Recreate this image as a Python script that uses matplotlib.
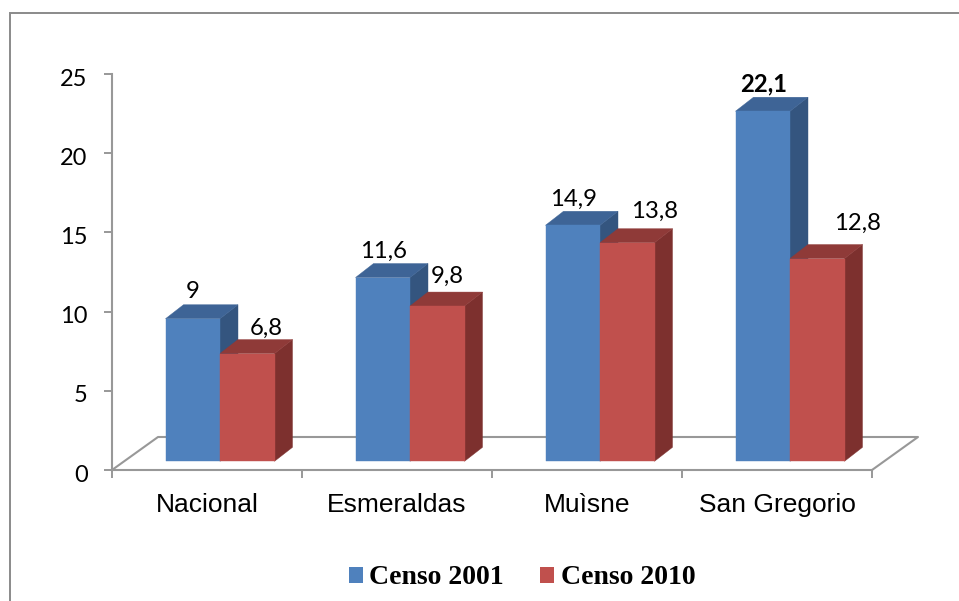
import numpy as np
import matplotlib
matplotlib.use('Agg')
import matplotlib.pyplot as plt
from matplotlib.lines import Line2D
from matplotlib.patches import Patch, Polygon
from matplotlib.transforms import ScaledTranslation

# Data.
categories = ['Nacional', 'Esmeraldas', 'Muìsne', 'San Gregorio']
censo_2001 = [9, 11.6, 14.9, 22.1]
censo_2010 = [6.8, 9.8, 13.8, 12.8]
labels_2001 = ['9', '11,6', '14,9', '22,1']
labels_2010 = ['6,8', '9,8', '13,8', '12,8']
y_ticks = [0, 5, 10, 15, 20, 25]

W, H = 959, 601
FRAME = '#8A8A8A'
GRAY = '#989898'
FRONT = ['#4F81BD', '#C0504D']
SIDE = ['#34557F', '#7D302E']
TOP = ['#3E6496', '#8F3A38']

# 3D look, in data units (190 px per category, 15.84 px per y unit).
bar_w = 54.5 / 190
shift = 13 / 190
depth_x = 18 / 190
depth_y = 14 / 15.84
base = 0.55
floor_x = 46 / 190
floor_y = 33 / 15.84

fig = plt.figure(figsize=(W / 100, H / 100), dpi=100, facecolor='white')
ax = fig.add_axes([112 / W, 1 - 470 / H, 760 / W, 396 / H])
ax.set_xlim(0, 4)
ax.set_ylim(0, 25)
ax.patch.set_alpha(0)

# Outer frame, cut by the image edge.
fig.add_artist(Line2D([10 / W, 10 / W, 1], [0, 1 - 13 / H, 1 - 13 / H],
                      color=FRAME, lw=1.4, solid_joinstyle='miter'))

# Floor.
ax.plot([0, floor_x, 4 + floor_x, 4], [0, floor_y, floor_y, 0],
        color=GRAY, lw=1.5, clip_on=False, zorder=1)

x = np.arange(4) + 0.5
for s, values in enumerate([censo_2001, censo_2010]):
    left = x + shift - bar_w + s * bar_w
    ax.bar(left, values, bar_w, bottom=base, align='edge', color=FRONT[s],
           edgecolor=FRONT[s], linewidth=0.3, zorder=3 + s * 2)
    for l, v in zip(left, values):
        r = l + bar_w
        t = v + base
        ax.add_patch(Polygon([(r, base), (r + depth_x, base + depth_y),
                              (r + depth_x, t + depth_y), (r, t)], facecolor=SIDE[s],
                             edgecolor=SIDE[s], linewidth=0.3, clip_on=False, zorder=2 + s * 2))
        ax.add_patch(Polygon([(l, t), (l + depth_x, t + depth_y),
                              (r + depth_x, t + depth_y), (r, t)], facecolor=TOP[s],
                             edgecolor=TOP[s], linewidth=0.3, clip_on=False, zorder=2 + s * 2))

# Value labels were placed by hand in the original, so offsets in px from the bar top.
off_2001 = [(-9, 27), (-8, 26), (-8, 26), (-8, 27)]
off_2010 = [(10, 25), (1, 30), (18, 31), (31, 35)]
for s, (values, texts, offs) in enumerate([(censo_2001, labels_2001, off_2001),
                                           (censo_2010, labels_2010, off_2010)]):
    for i, v in enumerate(values):
        cx = x[i] + shift + (s - 1) * bar_w + bar_w / 2 + depth_x / 2
        ax.annotate(texts[i], (cx, v + base), xytext=(offs[i][0] * 0.72, offs[i][1] * 0.72),
                    textcoords='offset points', ha='center', va='center',
                    family='Lato', fontsize=17.2, color='black', zorder=10,
                    fontweight='bold' if texts[i] == '22,1' else 'normal')

# Axes.
for side in ['top', 'right']:
    ax.spines[side].set_visible(False)
for side in ['left', 'bottom']:
    ax.spines[side].set_color(GRAY)
    ax.spines[side].set_linewidth(1.5)
ax.set_yticks(y_ticks)
ax.set_xticks(range(5))
ax.set_xticklabels([])
ax.set_xticks(x, minor=True)
ax.set_xticklabels(categories, minor=True, family='Liberation Sans', fontsize=19)
ax.tick_params(axis='x', which='minor', length=0, pad=16.5)
ax.tick_params(axis='both', which='major', length=5.5, width=1.4, color=GRAY)
ax.tick_params(axis='y', pad=12, labelsize=17)
for t in ax.get_yticklabels():
    t.set_family('Lato')
    t.set_transform(t.get_transform() + ScaledTranslation(0, -3 / 100, fig.dpi_scale_trans))

handles = [Patch(facecolor=FRONT[0]), Patch(facecolor=FRONT[1])]
fig.legend(handles, ['Censo 2001', 'Censo 2010'], loc='center', ncol=2,
           bbox_to_anchor=(522 / W, 1 - 578 / H), frameon=False,
           prop={'family': 'Liberation Serif', 'weight': 'bold', 'size': 20},
           handlelength=0.52, handleheight=0.52, handletextpad=0.23, columnspacing=1.29)

fig.savefig('out.png', dpi=100)
